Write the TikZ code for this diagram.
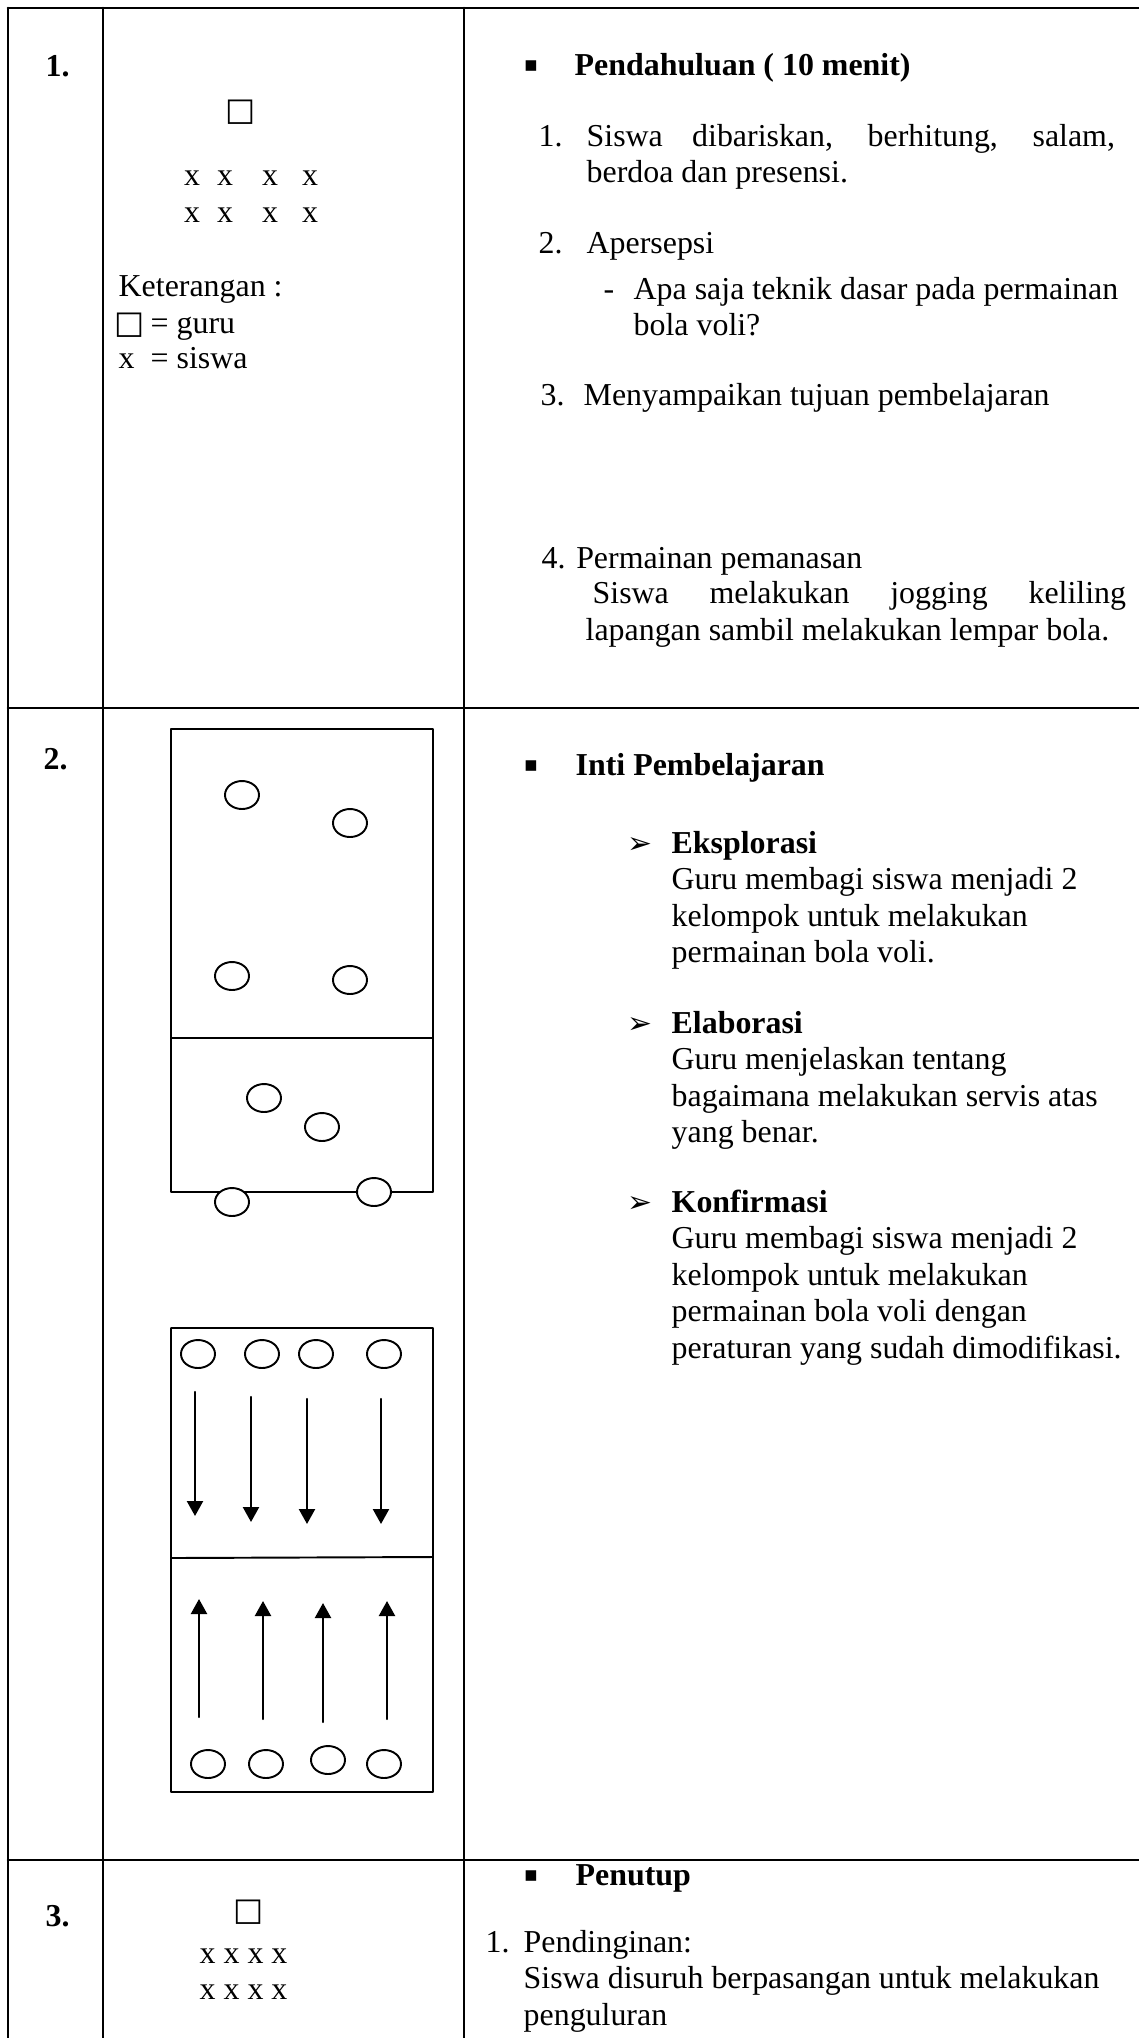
\documentclass[tikz,border=0pt]{standalone}
\usepackage{fontspec}
\setmainfont{Liberation Serif}
\newfontfamily\simbol{DejaVu Sans}
\usetikzlibrary{arrows.meta,shapes.geometric}
\newcommand{\blok}[1]{\begin{tabular}[t]{@{}l@{}}#1\end{tabular}}

\begin{document}
\begin{tikzpicture}[x=0.01cm, y=-0.01cm, line join=round, line cap=round,
	font=\fontsize{9.07}{10.41}\selectfont,
	teks/.style={anchor=base west, inner sep=0pt},
	tebal/.style={teks, font=\fontsize{9.07}{10.41}\selectfont\bfseries},
	tanda/.style={inner sep=0pt, font=\simbol\fontsize{6}{6}\selectfont},
	panahteks/.style={anchor=base west, inner sep=0pt, font=\simbol\fontsize{8.5}{10}\selectfont},
	kotak/.style={inner sep=0pt, font=\simbol\fontsize{9.07}{10.41}\selectfont},
	garis/.style={line width=0.75pt},
	lapangan/.style={line width=0.55pt},
	pemain/.style={draw, ellipse, fill=white, line width=0.55pt, minimum width=0.34cm, minimum height=0.28cm, inner sep=0pt},
	panah/.style={line width=0.65pt, -{Triangle[length=0.15cm, width=0.16cm]}}]
	\def\xmax{1139} \def\ymax{2038}
	\useasboundingbox (0,0) rectangle (\xmax,\ymax);
	% tabel
	\draw[garis] (8,8) -- (\xmax,8) (8,708) -- (\xmax,708) (8,1860) -- (\xmax,1860);
	\draw[garis] (8,8) -- (8,\ymax) (103,8) -- (103,\ymax) (464,8) -- (464,\ymax);
	% nomor
	\node[tebal] (no1) at (45,76) {1.};
	\node[tebal] (no2) at (43,769) {2.};
	\node[tebal] (no3) at (45,1926) {3.};
	% formasi pendahuluan
	\node[kotak] (guru1) at (241,112) {□};
	\foreach \x [count=\i] in {192,225,270,310} {
		\node[anchor=base, inner sep=0pt] (sa\i) at (\x,185) {x};
		\node[anchor=base, inner sep=0pt] (sb\i) at (\x,222) {x};
	}
	\node[teks] (ket) at (118,296) {Keterangan :};
	\node[teks] (ket1) at (114,333) {\makebox[0.36cm][l]{\simbol □}= guru};
	\node[teks] (ket2) at (118,368) {\makebox[0.32cm][l]{x}= siswa};
	% pendahuluan
	\node[tanda] (t1) at (531,66) {▪};
	\node[tebal] (pend) at (574,75) {Pendahuluan ( 10 menit)};
	\node[teks] (n1) at (538,146) {1.};
	\node[teks] (i1) at (586,146) {\blok{\makebox[5.28cm][s]{Siswa dibariskan, berhitung, salam,}\\berdoa dan presensi.}};
	\node[teks] (n2) at (538,253) {2.};
	\node[teks] (i2) at (586,253) {Apersepsi};
	\node[teks] (d2) at (603,299) {-};
	\node[teks] (i2a) at (633,299) {\blok{Apa saja teknik dasar pada permainan\\bola voli?}};
	\node[teks] (n3) at (540,405) {3.};
	\node[teks] (i3) at (583,405) {Menyampaikan tujuan pembelajaran};
	\node[teks] (i4) at (541,568) {4. Permainan pemanasan};
	\node[teks] (i4a) at (592,603) {\makebox[5.33cm][s]{Siswa melakukan jogging keliling}};
	\node[teks] (i4b) at (585,640) {lapangan sambil melakukan lempar bola.};
	% lapangan 1
	\draw[lapangan] (171,729) rectangle (433,1192) (171,1038) -- (433,1038);
	\foreach \x/\y [count=\i] in {242/795, 350/823, 232/976, 350/980, 264/1098, 322/1127, 232/1202, 374/1192}
		\node[pemain] (a\i) at (\x,\y) {};
	% lapangan 2
	\draw[lapangan] (171,1328) rectangle (433,1792) (171,1558) -- (433,1557);
	\foreach \x/\y [count=\i] in {198/1354, 262/1354, 316/1354, 384/1354, 208/1764, 266/1764, 328/1760, 384/1764}
		\node[pemain] (b\i) at (\x,\y) {};
	\foreach \x/\a/\b in {195/1392/1516, 251/1397/1522, 307/1399/1524, 381/1399/1524,
		199/1717/1599, 263/1719/1601, 323/1722/1603, 387/1719/1601}
		\draw[panah] (\x,\a) -- (\x,\b);
	% inti
	\node[tanda] (t2) at (531,766) {▪};
	\node[tebal] (inti) at (575,775) {Inti Pembelajaran};
	\node[panahteks] (e1) at (627,853) {➢};
	\node[teks] (eks) at (671,853) {\blok{\textbf{Eksplorasi}\\Guru membagi siswa menjadi 2\\kelompok untuk melakukan\\permainan bola voli.}};
	\node[panahteks] (e2) at (627,1033) {➢};
	\node[teks] (ela) at (671,1033) {\blok{\textbf{Elaborasi}\\Guru menjelaskan tentang\\bagaimana melakukan servis atas\\yang benar.}};
	\node[panahteks] (e3) at (627,1212) {➢};
	\node[teks] (kon) at (671,1212) {\blok{\textbf{Konfirmasi}\\Guru membagi siswa menjadi 2\\kelompok untuk melakukan\\permainan bola voli dengan\\peraturan yang sudah dimodifikasi.}};
	% penutup
	\node[kotak] (guru3) at (249,1912) {□};
	\node[teks] (sc1) at (199,1963) {x x x x};
	\node[teks] (sc2) at (199,1999) {x x x x};
	\node[tanda] (t3) at (531,1876) {▪};
	\node[tebal] (tutup) at (575,1885) {Penutup};
	\node[teks] (n31) at (485,1952) {1.};
	\node[teks] (pdg) at (523,1952) {\blok{Pendinginan:\\Siswa disuruh berpasangan untuk melakukan\\penguluran}};
\end{tikzpicture}
\end{document}
